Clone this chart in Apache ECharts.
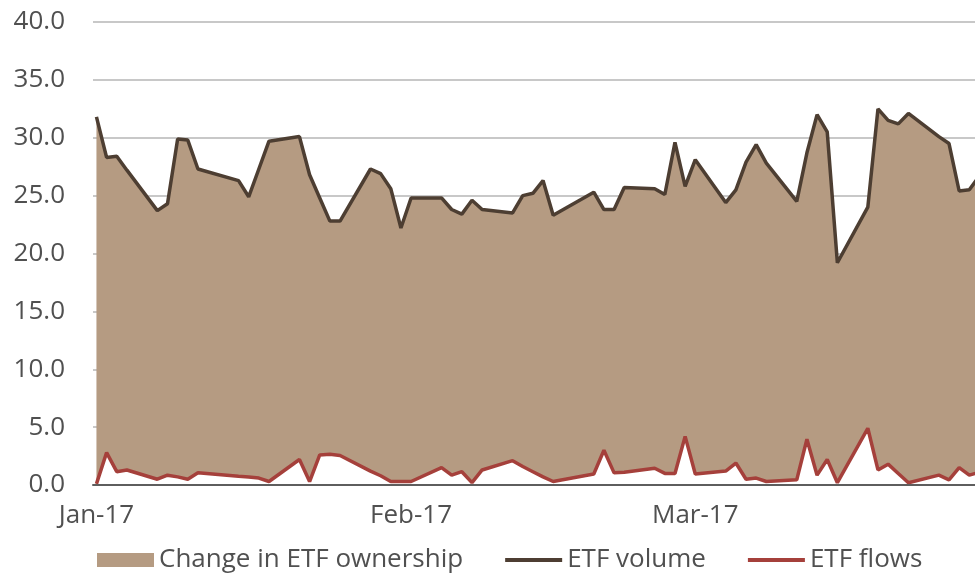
<!DOCTYPE html>
<html>
<head>
<meta charset="utf-8">
<script src="https://cdn.jsdelivr.net/npm/echarts@6/dist/echarts.min.js"></script>
<style>
  html, body { margin: 0; padding: 0; background: #fff; }
  #chart { width: 975px; height: 575px; }
</style>
</head>
<body>
<div id="chart"></div>
<script>
// trading days
const dates = [
    '2017-01-03', '2017-01-04', '2017-01-05', '2017-01-06',
    '2017-01-09', '2017-01-10', '2017-01-11', '2017-01-12', '2017-01-13',
    '2017-01-17', '2017-01-18', '2017-01-19', '2017-01-20',
    '2017-01-23', '2017-01-24', '2017-01-25', '2017-01-26', '2017-01-27',
    '2017-01-30', '2017-01-31', '2017-02-01', '2017-02-02', '2017-02-03',
    '2017-02-06', '2017-02-07', '2017-02-08', '2017-02-09', '2017-02-10',
    '2017-02-13', '2017-02-14', '2017-02-15', '2017-02-16', '2017-02-17',
    '2017-02-21', '2017-02-22', '2017-02-23', '2017-02-24',
    '2017-02-27', '2017-02-28', '2017-03-01', '2017-03-02', '2017-03-03',
    '2017-03-06', '2017-03-07', '2017-03-08', '2017-03-09', '2017-03-10',
    '2017-03-13', '2017-03-14', '2017-03-15', '2017-03-16', '2017-03-17',
    '2017-03-20', '2017-03-21', '2017-03-22', '2017-03-23', '2017-03-24',
    '2017-03-27', '2017-03-28', '2017-03-29', '2017-03-30', '2017-03-31'
];

const etfVolume = [
    31.8, 28.3, 28.4, 27.2,
    23.7, 24.3, 29.9, 29.8, 27.3,
    26.3, 24.9, 27.3, 29.7,
    30.1, 26.8, 24.8, 22.8, 22.8,
    27.3, 26.9, 25.6, 22.2, 24.8,
    24.8, 23.8, 23.4, 24.6, 23.8,
    23.5, 25.0, 25.2, 26.3, 23.3,
    25.3, 23.8, 23.8, 25.7,
    25.6, 25.1, 29.6, 25.8, 28.1,
    24.4, 25.5, 27.9, 29.4, 27.8,
    24.5, 28.7, 32.0, 30.5, 19.2,
    24.0, 32.5, 31.5, 31.2, 32.1,
    30.1, 29.5, 25.4, 25.5, 26.7
];

const etfFlows = [
    0.1, 2.8, 1.15, 1.3,
    0.5, 0.85, 0.7, 0.5, 1.05,
    0.75, 0.7, 0.6, 0.3,
    2.2, 0.3, 2.6, 2.65, 2.55,
    1.2, 0.8, 0.3, 0.3, 0.3,
    1.5, 0.85, 1.15, 0.2, 1.3,
    2.1, 1.6, 1.15, 0.7, 0.3,
    0.95, 3.0, 1.05, 1.1,
    1.45, 1.0, 1.0, 4.2, 0.95,
    1.2, 1.9, 0.5, 0.6, 0.3,
    0.45, 3.95, 0.85, 2.2, 0.2,
    4.9, 1.3, 1.8, 1.0, 0.2,
    0.85, 0.45, 1.5, 0.85, 1.1
];

// x labels sit on the 3rd of each month (first data day)
const labelDates = ['2017-01-03', '2017-02-03', '2017-03-03'];
const monthNames = ['Jan', 'Feb', 'Mar', 'Apr', 'May', 'Jun', 'Jul', 'Aug', 'Sep', 'Oct', 'Nov', 'Dec'];

const DAY = 86400000;
function toTime(s) {
    const p = s.split('-').map(Number);
    return new Date(p[0], p[1] - 1, p[2]).getTime();
}

const volumeData = dates.map((d, i) => [toTime(d), etfVolume[i]]);
const flowsData = dates.map((d, i) => [toTime(d), etfFlows[i]]);

const TAN = '#b59b82';
const BROWN = '#4d3e32';
const RED = '#a5403b';
const TEXT = '#505050';
const FONT = '"Open Sans", "Noto Sans", sans-serif';

const start = toTime('2017-01-03');

const chart = echarts.init(document.getElementById('chart'));

// hide the dot that line series put in the middle of their legend icon
const noDot = { color: 'rgba(0,0,0,0)', borderWidth: 0 };

chart.setOption({
    animation: false,
    grid: { left: 93, right: 0, top: 22, bottom: 90, containLabel: false },
    legend: {
        top: 542,
        left: 92,
        itemWidth: 57,
        itemHeight: 14,
        itemGap: 40,
        textStyle: { fontFamily: FONT, fontSize: 26, color: TEXT },
        data: [
            { name: 'Change in ETF ownership', icon: 'rect', itemStyle: { color: TAN } },
            { name: 'ETF volume', itemStyle: noDot, lineStyle: { width: 4 } },
            { name: 'ETF flows', itemStyle: noDot, lineStyle: { width: 4 } }
        ]
    },
    xAxis: {
        // timestamps on a value axis so labels can sit on the 3rd of each month
        type: 'value',
        min: start - 0.34 * DAY,
        max: start + 86.56 * DAY,
        z: 10,
        axisLine: { show: true, lineStyle: { color: '#5e5e5e', width: 2 } },
        axisTick: { show: false },
        splitLine: { show: false },
        axisLabel: {
            customValues: labelDates.map(toTime),
            margin: 18,
            fontFamily: FONT,
            fontSize: 26,
            color: TEXT,
            formatter: function (v) {
                const d = new Date(v);
                return monthNames[d.getMonth()] + '-' + String(d.getFullYear()).slice(2);
            }
        }
    },
    yAxis: {
        type: 'value',
        min: 0,
        max: 40,
        interval: 5,
        axisLine: { show: false },
        axisTick: { show: false },
        splitLine: { lineStyle: { color: '#c8c8c8', width: 2 } },
        axisLabel: {
            margin: 28,
            fontFamily: FONT,
            fontSize: 26,
            color: TEXT,
            formatter: v => v.toFixed(1)
        }
    },
    series: [
        {
            name: 'Change in ETF ownership',
            type: 'line',
            data: volumeData,
            symbol: 'none',
            lineStyle: { width: 0 },
            itemStyle: { color: TAN },
            areaStyle: { color: TAN, opacity: 1 },
            z: 1
        },
        {
            name: 'ETF flows',
            type: 'line',
            data: flowsData,
            symbol: 'none',
            lineStyle: { color: RED, width: 3.5 },
            itemStyle: { color: RED },
            areaStyle: { color: '#ffffff', opacity: 1 },
            z: 3
        },
        {
            name: 'ETF volume',
            type: 'line',
            data: volumeData,
            symbol: 'none',
            lineStyle: { color: BROWN, width: 3.5 },
            itemStyle: { color: BROWN },
            z: 4
        }
    ]
});
</script>
</body>
</html>
